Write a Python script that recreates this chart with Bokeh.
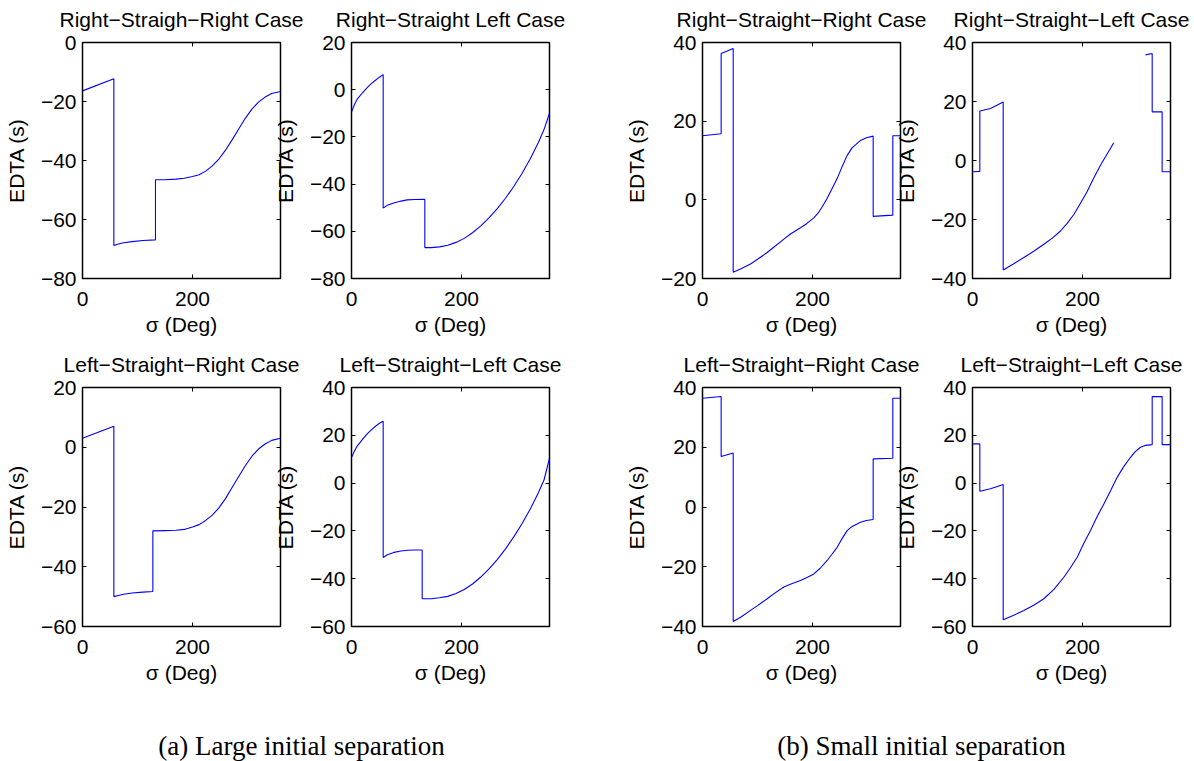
from bokeh.plotting import figure
from bokeh.models import Range1d, FixedTicker, LinearAxis, Title, Label
from bokeh.layouts import row, column
from bokeh.embed import file_html
from bokeh.resources import INLINE

nan = float("nan")

# ---------------- data ----------------
x_ticks = [0, 200]

# (a) Large initial separation
a_rsr_x = [0, 57, 57, 65, 75, 90, 110, 132.7, 132.7, 150, 170, 185, 200, 212, 224, 236, 248, 260, 272, 284, 296, 308, 320, 332, 344, 360]
a_rsr_y = [-16.4, -12.3, -68.8, -68.3, -67.9, -67.5, -67.1, -66.9, -46.5, -46.5, -46.3, -46.0, -45.4, -44.8, -43.6, -41.8, -39.5, -36.5, -33.0, -29.3, -25.7, -22.6, -20.2, -18.5, -17.3, -16.6]
a_rsr_yticks = [-80, -60, -40, -20, 0]

a_rsl_x = [0, 5, 10.3, 20, 28.5, 36, 43.6, 50, 57.6, 57.6, 65, 77, 90, 101, 115, 133.3, 133.3, 145, 160, 175, 190, 205, 220, 235, 250, 265, 280, 295, 310, 325, 340, 350, 360]
a_rsl_y = [-9.5, -6.5, -4.0, -1.3, 0.9, 2.6, 4.0, 5.2, 6.4, -50.1, -49.0, -48.0, -47.2, -46.7, -46.5, -46.4, -66.9, -66.9, -66.6, -65.9, -64.7, -63.0, -60.6, -57.7, -54.3, -50.4, -46.0, -41.0, -35.5, -29.3, -22.3, -16.9, -10.0]
a_rsl_yticks = [-80, -60, -40, -20, 0, 20]

a_lsr_x = [0, 57, 57, 65, 75, 90, 110, 127.9, 127.9, 150, 170, 185, 200, 212, 224, 236, 248, 260, 272, 284, 296, 308, 320, 332, 344, 360]
a_lsr_y = [3.0, 7.0, -50.0, -49.6, -49.2, -48.8, -48.5, -48.3, -28.0, -27.9, -27.8, -27.5, -26.7, -25.9, -24.5, -22.7, -20.3, -17.2, -13.5, -9.8, -6.2, -3.0, -0.6, 1.1, 2.3, 3.0]
a_lsr_yticks = [-60, -40, -20, 0, 20]

a_lsl_x = [0, 5, 10.3, 20, 28.5, 36, 43.6, 50, 57.6, 57.6, 65, 77, 90, 101.2, 115, 128.5, 128.5, 145, 160, 175, 190, 205, 220, 235, 250, 265, 280, 295, 310, 325, 340, 350, 360]
a_lsl_y = [10.7, 13.2, 15.5, 18.3, 20.6, 22.3, 23.8, 24.9, 25.9, -31.1, -30.0, -29.0, -28.4, -28.1, -28.0, -28.0, -48.4, -48.4, -48.0, -47.4, -46.2, -44.5, -42.2, -39.3, -35.9, -32.0, -27.5, -22.5, -17.0, -10.8, -3.9, 1.3, 10.3]
a_lsl_yticks = [-60, -40, -20, 0, 20, 40]

# (b) Small initial separation
b_rsr_x = [0, 33.9, 33.9, 55.8, 55.8, 70, 87.3, 100, 117.6, 130, 147.9, 160, 178.2, 190, 202.4, 210, 218, 226.7, 235, 244.8, 254, 263, 272, 287.3, 298, 310.3, 310.3, 346, 346, 360]
b_rsr_y = [16.3, 16.8, 37.2, 38.5, -18.4, -17.5, -16.3, -15.1, -13.4, -12.0, -10.0, -8.7, -7.1, -6.0, -4.6, -3.4, -1.7, 0.4, 2.7, 5.4, 8.5, 11.3, 13.2, 15.1, 15.8, 16.2, -4.2, -3.9, 16.3, 16.3]
b_rsr_yticks = [-20, 0, 20, 40]

b_rsl_x = [0, 13.3, 13.3, 32.7, 55.8, 55.8, 75, 93.3, 112, 129.7, 145, 160, 172, 184.2, 196, 208.5, 220, 232.7, 245, 256.9, nan, 314.5, 326.7, 326.7, 344.8, 344.8, 360]
b_rsl_y = [-3.8, -3.7, 16.8, 17.6, 19.8, -37.1, -35.0, -32.9, -30.7, -28.4, -26.3, -23.9, -21.3, -18.3, -14.6, -10.5, -6.1, -1.6, 2.3, 6.0, nan, 35.8, 36.3, 16.5, 16.5, -3.8, -3.8]
b_rsl_yticks = [-40, -20, 0, 20, 40]

b_lsr_x = [0, 33.9, 33.9, 55.8, 55.8, 70, 87.3, 100, 117.6, 130, 147.9, 162, 178.2, 190, 202.4, 214, 226.7, 235, 244.8, 254, 263, 272, 287.3, 298, 310.3, 310.3, 346, 346, 360]
b_lsr_y = [36.4, 37.0, 16.9, 18.1, -38.3, -36.8, -34.6, -33.0, -30.7, -29.0, -26.8, -25.7, -24.6, -23.6, -22.4, -20.5, -17.9, -15.9, -13.5, -10.5, -7.9, -6.5, -5.1, -4.5, -4.2, 16.1, 16.3, 36.4, 36.4]
b_lsr_yticks = [-40, -20, 0, 20, 40]

b_lsl_x = [0, 13.3, 13.3, 32.7, 55.8, 55.8, 75, 93.3, 112, 129.7, 148, 166, 178, 190.3, 202, 214.5, 226, 238.8, 251, 263, 275, 287.3, 296, 305.5, 315, 326.7, 326.7, 344.8, 344.8, 360]
b_lsl_y = [16.4, 16.4, -3.4, -2.4, -0.6, -57.2, -55.3, -53.3, -51.0, -48.4, -44.5, -39.4, -35.4, -31.0, -25.4, -19.8, -14.3, -8.7, -3.2, 2.4, 6.9, 10.8, 13.2, 15.0, 15.8, 16.1, 36.2, 36.2, 16.1, 16.1]
b_lsl_yticks = [-60, -40, -20, 0, 20, 40]

titles = {
    "a_rsr": "Right\u2212Straigh\u2212Right Case",
    "a_rsl": "Right\u2212Straight Left Case",
    "a_lsr": "Left\u2212Straight\u2212Right Case",
    "a_lsl": "Left\u2212Straight\u2212Left Case",
    "b_rsr": "Right\u2212Straight\u2212Right Case",
    "b_rsl": "Right\u2212Straight\u2212Left Case",
    "b_lsr": "Left\u2212Straight\u2212Right Case",
    "b_lsl": "Left\u2212Straight\u2212Left Case",
}
x_label = "\u03c3 (Deg)"
y_label = "EDTA (s)"
captions = ["(a) Large initial separation", "(b) Small initial separation"]

# ---------------- styling ----------------
FONT = "Liberation Sans"
FS = "21px"


def fmt(v):
    return ("\u2212%d" % -v) if v < 0 else "%d" % v


def side_axis(ticks):
    return LinearAxis(ticker=FixedTicker(ticks=ticks), major_label_text_font_size="1px",
                      major_label_text_color=None, major_tick_in=4, major_tick_out=0,
                      minor_tick_line_color=None, axis_line_color=None,
                      major_label_standoff=0, major_tick_line_color="black")


def panel(title, xs, ys, yticks, left, right, top, bottom, width, height, margin):
    p = figure(width=width, height=height,
               x_range=Range1d(0, 360), y_range=Range1d(yticks[0], yticks[-1]),
               toolbar_location=None, output_backend="svg",
               min_border_left=left, min_border_right=right,
               min_border_top=top, min_border_bottom=bottom,
               margin=margin)
    p.line(xs, ys, line_color="#0000FF", line_width=1.1)
    p.xgrid.visible = False
    p.ygrid.visible = False
    p.outline_line_color = "black"
    p.outline_line_width = 1.5
    p.border_fill_color = None
    p.background_fill_color = "white"

    p.xaxis.ticker = FixedTicker(ticks=x_ticks)
    p.yaxis.ticker = FixedTicker(ticks=yticks)
    p.xaxis.major_label_overrides = {t: fmt(t) for t in x_ticks}
    p.yaxis.major_label_overrides = {t: fmt(t) for t in yticks}
    p.xaxis.axis_label = x_label
    p.yaxis.axis_label = y_label
    for ax in (p.xaxis[0], p.yaxis[0]):
        ax.axis_line_color = None
        ax.major_tick_in = 4
        ax.major_tick_out = 0
        ax.major_tick_line_color = "black"
        ax.minor_tick_line_color = None
        ax.major_label_text_font = FONT
        ax.major_label_text_font_size = FS
        ax.major_label_text_color = "black"
        ax.axis_label_text_font = FONT
        ax.axis_label_text_font_size = FS
        ax.axis_label_text_font_style = "normal"
        ax.axis_label_text_color = "black"
    p.xaxis.major_label_standoff = 13
    p.xaxis.axis_label_standoff = 4
    p.yaxis.major_label_standoff = 6
    p.yaxis.axis_label_standoff = 10

    p.add_layout(side_axis(yticks), "right")
    p.add_layout(side_axis(x_ticks), "above")
    p.add_layout(Title(text=title, align="center", text_font=FONT, text_font_size=FS,
                       text_font_style="normal", text_color="black", standoff=23), "above")
    return p


# column geometry: (min_border_left, min_border_right, width, margin-left)
cols = [(82, 30, 310, 0), (81, 26, 305, -40), (102, 35, 335, 25), (82, 24, 304, -45)]
M1 = -10          # top row figures start 10px above the page
H1 = 384          # so they end at y = 374
M2 = -54          # bottom row figures start at y = 320
H2 = 390          # and end at y = 710


def top_fig(key, xs, ys, yt, c, frame_top, frame_h):
    l, r, w, ml = cols[c]
    top = frame_top - M1
    return panel(titles[key], xs, ys, yt, l, r, top, H1 - top - frame_h, w, H1, (M1, 0, 0, ml))


def bot_fig(key, xs, ys, yt, c, frame_top, frame_h):
    l, r, w, ml = cols[c]
    top = frame_top - 320
    return panel(titles[key], xs, ys, yt, l, r, top, H2 - top - frame_h, w, H2, (M2, 0, 0, ml))


p1 = top_fig("a_rsr", a_rsr_x, a_rsr_y, a_rsr_yticks, 0, 42, 242)
p2 = top_fig("a_rsl", a_rsl_x, a_rsl_y, a_rsl_yticks, 1, 42, 242)
p3 = top_fig("b_rsr", b_rsr_x, b_rsr_y, b_rsr_yticks, 2, 39, 239)
p4 = top_fig("b_rsl", b_rsl_x, b_rsl_y, b_rsl_yticks, 3, 39, 239)

p5 = bot_fig("a_lsr", a_lsr_x, a_lsr_y, a_lsr_yticks, 0, 386, 241)
p6 = bot_fig("a_lsl", a_lsl_x, a_lsl_y, a_lsl_yticks, 1, 386, 241)
p7 = bot_fig("b_lsr", b_lsr_x, b_lsr_y, b_lsr_yticks, 2, 387, 239)
p8 = bot_fig("b_lsl", b_lsl_x, b_lsl_y, b_lsl_yticks, 3, 387, 239)

cap_h = 761 - 710
cap = figure(width=1194, height=cap_h, x_range=Range1d(0, 1194), y_range=Range1d(0, cap_h),
             toolbar_location=None, output_backend="svg", min_border=0)
cap.axis.visible = False
cap.xgrid.visible = False
cap.ygrid.visible = False
cap.outline_line_color = None
cap.border_fill_color = None
cap.background_fill_color = None
for cx, txt in zip([301, 921], captions):
    cap.add_layout(Label(x=cx, y=16, x_units="screen", y_units="screen", text=txt,
                         text_align="center", text_baseline="alphabetic",
                         text_font="Liberation Serif", text_font_size="27px", text_color="black"))

layout = column(row(p1, p2, p3, p4), row(p5, p6, p7, p8), cap)

with open("out.html", "w") as f:
    f.write(file_html(layout, INLINE))
